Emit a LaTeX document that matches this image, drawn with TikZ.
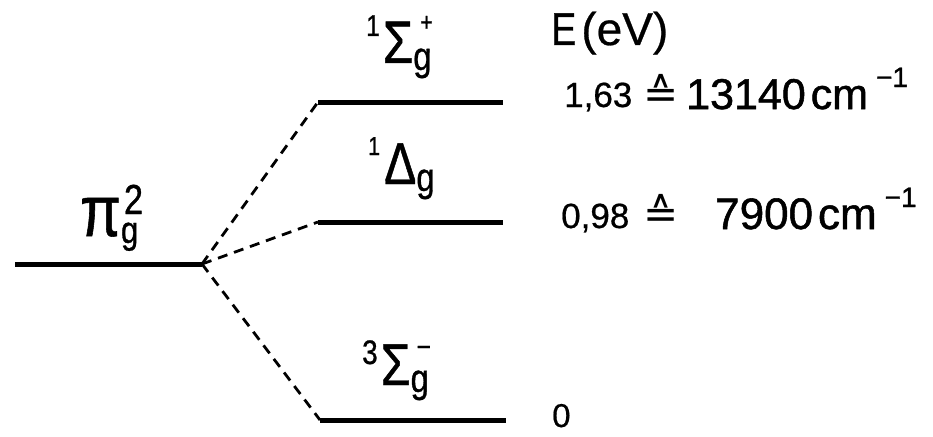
\documentclass[tikz,border=0pt]{standalone}
\usepackage{fontspec}
\setmainfont{Liberation Sans}[FakeBold=0.6]
\newfontfamily\cf{Liberation Sans}[FakeStretch=0.82,FakeBold=0.8]
\newfontfamily\heavyf{Liberation Sans}[FakeBold=1.2]
\newfontfamily\dv{DejaVu Sans}
\newcommand\fs[1]{\fontsize{#1}{#1}\selectfont}
\begin{document}
\begin{tikzpicture}[x=1pt,y=-1pt,
  level/.style={line width=5pt},
  conn/.style={line width=2.8pt, dash pattern=on 10pt off 7pt},
  lab/.style={inner sep=0pt, anchor=base west}]
\useasboundingbox (0,0) rectangle (933,436);
% levels
\coordinate (pL) at (15,264);  \coordinate (pR) at (202,264);
\coordinate (aL) at (318,102); \coordinate (aR) at (503,102);
\coordinate (bL) at (318,222); \coordinate (bR) at (503,222);
\coordinate (cL) at (320,420); \coordinate (cR) at (506,420);
\draw[level] (pL) -- (pR);
\draw[level] (aL) -- (aR);
\draw[level] (bL) -- (bR);
\draw[level] (cL) -- (cR);
\draw[conn] (pR) -- (aL);
\draw[conn] (pR) -- (bL);
\draw[conn] (pR) -- (cL);
% term labels
\node[lab] (pi) at (80,236) {\cf{\fs{72}π}\rlap{\kern3pt\fs{42}\raisebox{22pt}{2}}{\fs{38}\raisebox{-7pt}{g}}};
\node[lab] (ta) at (366,63) {\cf{\fs{30}\raisebox{27pt}{1}}\kern3pt{\fs{60}Σ}\rlap{\kern7pt\fs{26}\raisebox{32pt}{+}}{\fs{40}\raisebox{-7pt}{g}}};
\node[lab] (tb) at (368,184) {\cf{\fs{26}\raisebox{29pt}{1}}\kern4pt{\fs{59}Δ}{\fs{40}\raisebox{-7pt}{g}}};
\node[lab] (tc) at (362,385) {\cf{\fs{34}\raisebox{21pt}{3}}\kern3pt{\fs{59}Σ}\rlap{\kern6pt\fs{30}\raisebox{28pt}{−}}{\fs{40}\raisebox{-7pt}{g}}};
% energy column
\node[lab] (E) at (551,45) {{\cf\fs{46}E}\kern5pt{\fs{46}(eV)}};
\node[lab] (r1v) at (564,107) {\fs{35}1,63};
\node[lab] (r1e) at (643,108) {\dv\fs{42}≙};
\node[lab] (r1w) at (686,109) {\heavyf\fs{43}13140\kern5pt cm\kern8pt\raisebox{22pt}{\fs{28}−1}};
\node[lab] (r2v) at (561,228) {\fs{35}0,98};
\node[lab] (r2e) at (643,228) {\dv\fs{42}≙};
\node[lab] (r2w) at (715,229) {\heavyf\fs{44}7900\kern5pt cm\kern8pt\raisebox{22pt}{\fs{28}−1}};
\node[lab] (r3v) at (552,427) {\fs{33}0};
\end{tikzpicture}
\end{document}
